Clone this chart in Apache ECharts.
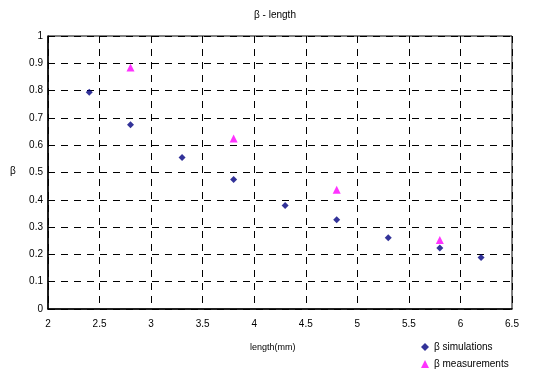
<!DOCTYPE html>
<html>
<head>
<meta charset="utf-8">
<script src="https://cdn.jsdelivr.net/npm/echarts@6/dist/echarts.min.js"></script>
<style>html,body{margin:0;padding:0;background:#fff}#c{width:534px;height:372px}</style>
</head>
<body>
<div id="c"></div>
<script>
var simX = [2.4, 2.8, 3.3, 3.8, 4.3, 4.8, 5.3, 5.8, 6.2];
var simY = [0.794, 0.675, 0.555, 0.474, 0.379, 0.327, 0.261, 0.223, 0.189];
var measX = [2.8, 3.8, 4.8, 5.8];
var measY = [0.885, 0.625, 0.437, 0.253];
var seriesNames = ['β simulations', 'β measurements'];
var titleText = 'β - length';
var xName = 'length(mm)';
var yName = 'β';

function pairs(xs, ys) { return xs.map(function (x, i) { return [x, ys[i]]; }); }

var chart = echarts.init(document.getElementById('c'), null, {renderer: 'canvas'});
var font = 'Liberation Sans, Arial, sans-serif';
var legendText = {fontFamily: font, fontSize: 10, color: '#000'};
chart.setOption({
  animation: false,
  backgroundColor: '#fff',
  title: {
    text: titleText, left: 270, top: 5, textAlign: 'center',
    textStyle: {fontFamily: font, fontSize: 10, fontWeight: 'normal', color: '#000'}
  },
  grid: {left: 48, right: 22, top: 36, bottom: 63, show: true, borderColor: '#000', borderWidth: 1, backgroundColor: '#fff'},
  xAxis: {
    type: 'value', min: 2, max: 6.5, interval: 0.5,
    axisLine: {show: true, onZero: false, lineStyle: {color: '#000', width: 1.5}},
    axisTick: {show: false},
    axisLabel: {color: '#000', fontFamily: font, fontSize: 10, margin: 10},
    splitLine: {show: true, lineStyle: {color: '#000', type: [7, 6], width: 1}}
  },
  yAxis: {
    type: 'value', min: 0, max: 1, interval: 0.1,
    axisLine: {show: true, onZero: false, lineStyle: {color: '#000', width: 1.5}},
    axisTick: {show: false},
    axisLabel: {color: '#000', fontFamily: font, fontSize: 10, margin: 5,
      formatter: function (v) { return String(Math.round(v * 10) / 10); }},
    splitLine: {show: true, lineStyle: {color: '#000', type: [7, 6], width: 1}}
  },
  legend: [
    {left: 421, top: 342, itemWidth: 8, itemHeight: 8, itemGap: 4, padding: 0,
     textStyle: legendText, data: [{name: seriesNames[0], icon: 'diamond'}]},
    {left: 421, top: 359, itemWidth: 8, itemHeight: 8, itemGap: 4, padding: 0,
     textStyle: legendText, data: [{name: seriesNames[1], icon: 'triangle'}]}
  ],
  graphic: [
    {type: 'text', left: 250, top: 343, style: {text: xName, font: '9px ' + font, fill: '#000'}},
    {type: 'text', left: 10, top: 166, style: {text: yName, font: '10px ' + font, fill: '#000'}}
  ],
  series: [
    {name: seriesNames[0], type: 'scatter', symbol: 'diamond', symbolSize: 7,
     itemStyle: {color: '#000080'}, data: pairs(simX, simY)},
    {name: seriesNames[1], type: 'scatter', symbol: 'triangle', symbolSize: 8,
     itemStyle: {color: '#FF00FF'}, data: pairs(measX, measY)}
  ]
});
</script>
</body>
</html>
